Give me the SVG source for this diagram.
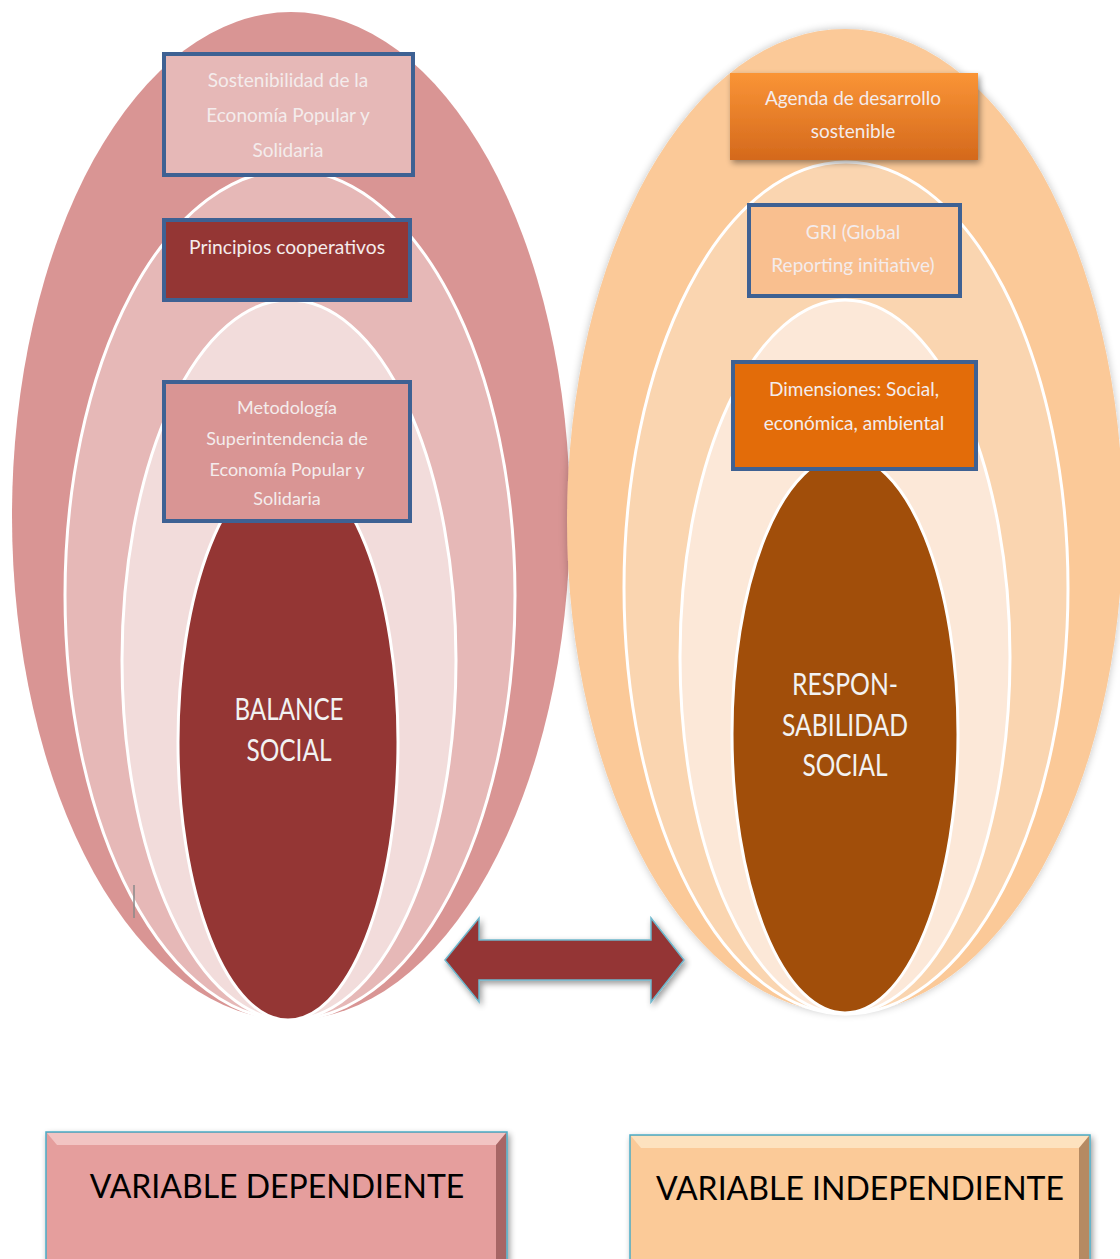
<svg xmlns="http://www.w3.org/2000/svg" width="1120" height="1259" viewBox="0 0 1120 1259">
<defs>
<style>
.bt{font-family:Lato,"Liberation Sans",sans-serif;fill:#F4ECEC;text-anchor:middle}
.big{font-family:Lato,"Liberation Sans",sans-serif;fill:#F2F2F2;text-anchor:middle;font-size:31px}
.var{font-family:Lato,"Liberation Sans",sans-serif;fill:#000;text-anchor:middle;font-size:32px}
.bx{stroke:#3E6193;stroke-width:4}
.ring{stroke:#FFFFFF;stroke-width:3}
</style>
<linearGradient id="orangeG" x1="0" y1="0" x2="0" y2="1">
<stop offset="0" stop-color="#FA9436"/>
<stop offset="1" stop-color="#D4691C"/>
</linearGradient>
<filter id="sh" x="-10%" y="-10%" width="130%" height="130%">
<feGaussianBlur in="SourceAlpha" stdDeviation="3"/>
<feOffset dx="2" dy="3"/>
<feComponentTransfer><feFuncA type="linear" slope="0.4"/></feComponentTransfer>
<feMerge><feMergeNode/><feMergeNode in="SourceGraphic"/></feMerge>
</filter>
<filter id="glow" x="-10%" y="-10%" width="120%" height="120%">
<feGaussianBlur in="SourceAlpha" stdDeviation="4"/>
<feComponentTransfer><feFuncA type="linear" slope="0.25"/></feComponentTransfer>
<feMerge><feMergeNode/><feMergeNode in="SourceGraphic"/></feMerge>
</filter>
</defs>
<rect width="1120" height="1259" fill="#FFFFFF"/>

<g id="left-rings">
<ellipse cx="291" cy="516" rx="279" ry="504" fill="#D99594"/>
<ellipse cx="290" cy="595" rx="225" ry="425" fill="#E6B8B7" class="ring"/>
<ellipse cx="289" cy="660" rx="167" ry="360" fill="#F2DCDB" class="ring"/>
<ellipse cx="288" cy="742" rx="110" ry="278" fill="#943634" class="ring"/>
<line x1="134" y1="885" x2="134" y2="918" stroke="#8A8A8A" stroke-width="1.5"/>
</g>

<g id="right-rings">
<ellipse cx="845" cy="521" rx="278" ry="492" fill="#FBC998" filter="url(#glow)"/>
<ellipse cx="846" cy="588" rx="222" ry="426" fill="#FAD5B0" class="ring"/>
<ellipse cx="845" cy="657" rx="165" ry="357" fill="#FCE8D8" class="ring"/>
<ellipse cx="845" cy="734" rx="113" ry="279" fill="#A14E0A" class="ring"/>
</g>

<g id="node-sostenibilidad">
<rect x="164" y="54" width="249" height="121" fill="#E6B8B7" class="bx"/>
<text class="bt" font-size="19" x="288" y="87">Sostenibilidad de la</text>
<text class="bt" font-size="19" x="288" y="122">Economía Popular y</text>
<text class="bt" font-size="19" x="288" y="157">Solidaria</text>
</g>

<g id="node-principios">
<rect x="164" y="220" width="246" height="80" fill="#943634" class="bx"/>
<text class="bt" font-size="19" x="287" y="254" textLength="196" lengthAdjust="spacingAndGlyphs">Principios cooperativos</text>
</g>

<g id="node-metodologia">
<rect x="164" y="382" width="246" height="139" fill="#D99594" class="bx"/>
<text class="bt" font-size="18" x="287" y="414">Metodología</text>
<text class="bt" font-size="18" x="287" y="445">Superintendencia de</text>
<text class="bt" font-size="18" x="287" y="476">Economía Popular y</text>
<text class="bt" font-size="18" x="287" y="505">Solidaria</text>
</g>

<g id="node-balance">
<text class="big" x="289" y="720" textLength="109" lengthAdjust="spacingAndGlyphs">BALANCE</text>
<text class="big" x="289" y="761" textLength="85" lengthAdjust="spacingAndGlyphs">SOCIAL</text>
</g>

<g id="node-agenda">
<rect x="730" y="73" width="248" height="87" fill="url(#orangeG)" filter="url(#sh)"/>
<text class="bt" font-size="19" x="853" y="105">Agenda de desarrollo</text>
<text class="bt" font-size="19" x="853" y="138">sostenible</text>
</g>

<g id="node-gri">
<rect x="749" y="205" width="211" height="91" fill="#F9BF8F" class="bx"/>
<text class="bt" font-size="19" x="853" y="239">GRI (Global</text>
<text class="bt" font-size="19" x="853" y="272">Reporting initiative)</text>
</g>

<g id="node-dimensiones">
<rect x="733" y="362" width="243" height="107" fill="#E36C09" class="bx"/>
<text class="bt" font-size="19" x="854" y="396" fill="#FBE9D8">Dimensiones: Social,</text>
<text class="bt" font-size="19" x="854" y="430" fill="#FBE9D8">económica, ambiental</text>
</g>

<g id="node-responsabilidad">
<text class="big" x="845" y="695" textLength="106" lengthAdjust="spacingAndGlyphs">RESPON-</text>
<text class="big" x="845" y="736" textLength="126" lengthAdjust="spacingAndGlyphs">SABILIDAD</text>
<text class="big" x="845" y="776" textLength="85" lengthAdjust="spacingAndGlyphs">SOCIAL</text>
</g>

<g id="connectors">
<path d="M445,960 L479,918 L479,940 L651,940 L651,918 L684,960 L651,1002 L651,980 L479,980 L479,1002 Z" fill="#943634" stroke="#6FB7CC" stroke-width="1.5" filter="url(#sh)"/>
</g>

<g id="node-var-dep">
<rect x="46" y="1132" width="461" height="130" fill="#E59E9D" stroke="#4BACC6" stroke-width="1.5" filter="url(#sh)"/>
<polygon points="47,1133 506,1133 496,1145 57,1145" fill="#F2C4C3"/>
<polygon points="506,1133 506,1262 496,1262 496,1145" fill="#A76665"/>
<text class="var" x="277" y="1198">VARIABLE DEPENDIENTE</text>
</g>

<g id="node-var-indep">
<rect x="630" y="1135" width="460" height="127" fill="#FBCA98" stroke="#4BACC6" stroke-width="1.5" filter="url(#sh)"/>
<polygon points="631,1136 1089,1136 1079,1148 641,1148" fill="#FDE2BF"/>
<polygon points="1089,1136 1089,1262 1079,1262 1079,1148" fill="#B58A62"/>
<text class="var" x="860" y="1200">VARIABLE INDEPENDIENTE</text>
</g>
</svg>
